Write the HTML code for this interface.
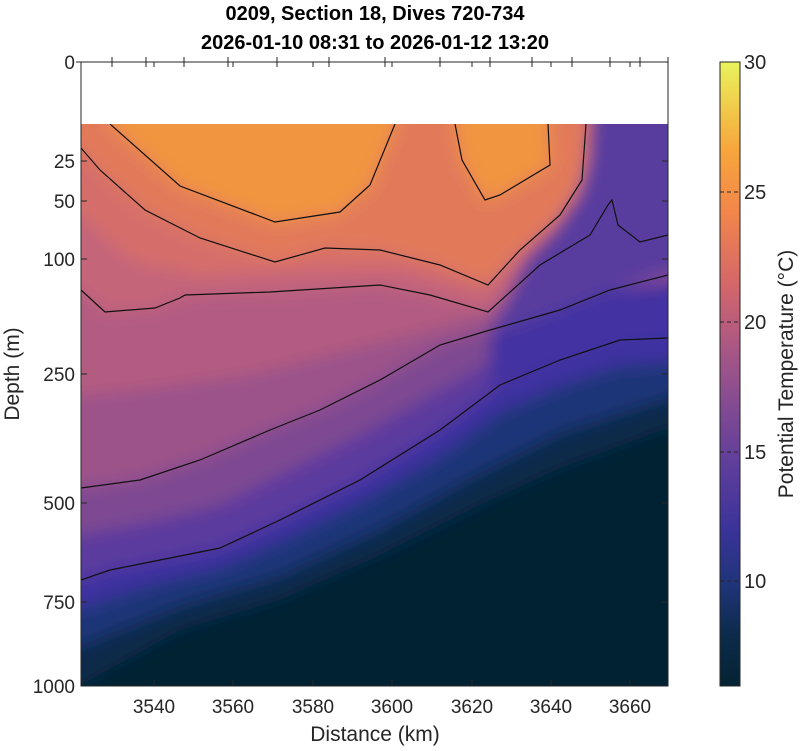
<!DOCTYPE html>
<html><head><meta charset="utf-8"><style>
body{margin:0;background:#fff;width:800px;height:746px;overflow:hidden}
svg text{font-family:"Liberation Sans",sans-serif;fill:#262626}
</style></head><body>
<svg width="800" height="746" viewBox="0 0 800 746" xmlns="http://www.w3.org/2000/svg">
<defs>
<clipPath id="pc"><rect x="81" y="124" width="587" height="562"/></clipPath>
<filter id="bl" x="-20%" y="-20%" width="140%" height="140%"><feGaussianBlur stdDeviation="8"/></filter>
<linearGradient id="cb" x1="0" y1="1" x2="0" y2="0">
<stop offset="0" stop-color="#042333"/>
<stop offset="0.08" stop-color="#0d2a4a"/>
<stop offset="0.16" stop-color="#1e3478"/>
<stop offset="0.25" stop-color="#3a3399"/>
<stop offset="0.35" stop-color="#5d3d9b"/>
<stop offset="0.45" stop-color="#834b92"/>
<stop offset="0.55" stop-color="#ad5883"/>
<stop offset="0.65" stop-color="#d66868"/>
<stop offset="0.76" stop-color="#f2864a"/>
<stop offset="0.86" stop-color="#f7a63c"/>
<stop offset="1" stop-color="#e9f35c"/>
</linearGradient>
</defs>
<g clip-path="url(#pc)">
<g filter="url(#bl)">
<rect x="40" y="100" width="680" height="640" fill="#052232"/>
<polygon fill="#0f2c4c" points="40,700 81,685 180,630 280,600 380,555 480,505 560,468 668,428 720,420 720,100 40,100"/>
<polygon fill="#1f3678" points="40,650 81,645 180,605 280,575 380,528 480,472 560,432 668,397 720,390 720,100 40,100"/>
<polygon fill="#3e32a0" points="40,610 81,608 150,585 220,568 280,542 360,502 440,456 500,412 560,386 620,366 720,360 720,100 40,100"/>
<polygon fill="#5c3a9e" points="40,580 81,580 110,570 150,562 220,548 280,520 360,480 440,430 500,385 560,360 620,340 720,336 720,100 40,100"/>
<polygon fill="#7e4892" points="40,535 81,535 150,522 220,505 280,475 360,435 440,390 500,358 560,335 620,315 720,305 720,100 40,100"/>
<polygon fill="#9b528a" points="40,488 81,488 140,480 200,460 270,430 320,410 380,380 440,345 490,330 560,310 610,290 720,272 720,100 40,100"/>
<polygon fill="#b35c81" points="40,400 140,390 250,375 350,350 450,325 520,300 720,280 720,100 40,100"/>
<polygon fill="#c5657a" points="40,290 81,290 105,312 155,308 185,295 270,292 380,285 430,295 488,312 540,265 590,235 720,200 720,100 40,100"/>
<polygon fill="#d56e6a" points="40,215 81,215 130,260 200,275 300,270 400,268 480,290 540,240 720,200 720,100 40,100"/>
<polygon fill="#e27a5a" points="40,148 81,148 100,170 145,210 200,238 275,262 325,248 380,250 440,265 488,285 520,250 560,215 582,180 586,124 586,100 40,100"/>
<polygon fill="#f29540" points="110,100 110,124 180,186 275,222 340,212 370,185 395,124 395,100"/>
<polygon fill="#f29540" points="455,100 455,124 462,160 485,200 500,195 550,165 548,124 548,100"/>
<polygon fill="#583c9e" points="592,100 720,100 720,272 668,275 610,290 560,310 490,332 500,310 525,260 555,228 578,195 588,160"/>
<polygon fill="#4333a2" points="490,334 560,310 610,290 720,272 720,336 620,340 560,360 490,385"/>
</g>
<g fill="none" stroke="#111" stroke-width="1.2">
<polyline points="110,124 180,186 275,222 340,212 370,185 395,124"/>
<polyline points="455,124 462,160 485,200 500,195 550,165 548,124"/>
<polyline points="81,148 100,170 145,210 200,238 275,262 325,248 380,250 440,265 488,285 520,250 560,215 582,180 586,124"/>
<polyline points="81,290 105,312 155,308 180,298 185,295 270,292 380,285 430,295 488,312 540,265 590,235 608,205 612,200 618,225 640,242 668,235"/>
<polyline points="81,488 140,480 200,460 270,430 320,410 380,380 440,345 490,330 560,310 610,290 668,275"/>
<polyline points="81,580 110,570 150,562 220,548 280,520 360,480 440,430 500,385 560,360 620,340 668,338"/>
</g>
</g>
<rect x="81" y="62" width="587" height="624" fill="none" stroke="#262626" stroke-width="1"/>
<g stroke="#262626" stroke-width="1">
<line x1="76" y1="62" x2="81" y2="62"/>
<line x1="81" y1="161" x2="87" y2="161"/><line x1="81" y1="201" x2="87" y2="201"/><line x1="81" y1="259" x2="87" y2="259"/><line x1="81" y1="374" x2="87" y2="374"/><line x1="81" y1="503" x2="87" y2="503"/><line x1="81" y1="602" x2="87" y2="602"/>
<line x1="668" y1="161" x2="662" y2="161"/><line x1="668" y1="201" x2="662" y2="201"/><line x1="668" y1="259" x2="662" y2="259"/><line x1="668" y1="374" x2="662" y2="374"/><line x1="668" y1="503" x2="662" y2="503"/><line x1="668" y1="602" x2="662" y2="602"/>
<line x1="154" y1="686" x2="154" y2="680"/><line x1="233" y1="686" x2="233" y2="680"/><line x1="313" y1="686" x2="313" y2="680"/><line x1="392" y1="686" x2="392" y2="680"/><line x1="472" y1="686" x2="472" y2="680"/><line x1="551" y1="686" x2="551" y2="680"/><line x1="630" y1="686" x2="630" y2="680"/>
<line x1="154" y1="62" x2="154" y2="67"/><line x1="233" y1="62" x2="233" y2="67"/><line x1="313" y1="62" x2="313" y2="67"/><line x1="392" y1="62" x2="392" y2="67"/><line x1="472" y1="62" x2="472" y2="67"/><line x1="551" y1="62" x2="551" y2="67"/><line x1="630" y1="62" x2="630" y2="67"/>
<line x1="112" y1="57" x2="112" y2="67"/><line x1="146" y1="57" x2="146" y2="67"/><line x1="184" y1="57" x2="184" y2="67"/><line x1="228" y1="57" x2="228" y2="67"/><line x1="277" y1="57" x2="277" y2="67"/><line x1="329" y1="57" x2="329" y2="67"/><line x1="385" y1="57" x2="385" y2="67"/><line x1="440" y1="57" x2="440" y2="67"/><line x1="490" y1="57" x2="490" y2="67"/><line x1="532" y1="57" x2="532" y2="67"/><line x1="572" y1="57" x2="572" y2="67"/><line x1="610" y1="57" x2="610" y2="67"/><line x1="640" y1="57" x2="640" y2="67"/><line x1="668" y1="57" x2="668" y2="67"/>
</g>
<g font-size="19" text-anchor="end">
<text x="75" y="69">0</text><text x="75" y="168">25</text><text x="75" y="208">50</text><text x="75" y="266">100</text><text x="75" y="381">250</text><text x="75" y="510">500</text><text x="75" y="609">750</text><text x="75" y="693">1000</text>
</g>
<g font-size="19" text-anchor="middle">
<text x="154" y="713">3540</text><text x="233" y="713">3560</text><text x="313" y="713">3580</text><text x="392" y="713">3600</text><text x="472" y="713">3620</text><text x="551" y="713">3640</text><text x="630" y="713">3660</text>
</g>
<text x="375" y="741" font-size="21" text-anchor="middle">Distance (km)</text>
<text transform="translate(19,374) rotate(-90)" font-size="21" text-anchor="middle">Depth (m)</text>
<text x="375" y="20" font-size="20" font-weight="bold" text-anchor="middle" style="fill:#000">0209, Section 18, Dives 720-734</text>
<text x="375" y="49" font-size="20" font-weight="bold" text-anchor="middle" style="fill:#000">2026-01-10 08:31 to 2026-01-12 13:20</text>
<rect x="720" y="62" width="20" height="624" fill="url(#cb)" stroke="#262626" stroke-width="1"/>
<g stroke="#262626" stroke-width="1" stroke-dasharray="4,3">
<line x1="720" y1="192" x2="740" y2="192"/><line x1="720" y1="322" x2="740" y2="322"/><line x1="720" y1="452" x2="740" y2="452"/><line x1="720" y1="581" x2="740" y2="581"/>
</g>
<g font-size="20">
<text x="744" y="69">30</text><text x="744" y="199">25</text><text x="744" y="329">20</text><text x="744" y="459">15</text><text x="744" y="588">10</text>
</g>
<text transform="translate(793,374) rotate(-90)" font-size="21" text-anchor="middle">Potential Temperature (°C)</text>
</svg>
</body></html>
